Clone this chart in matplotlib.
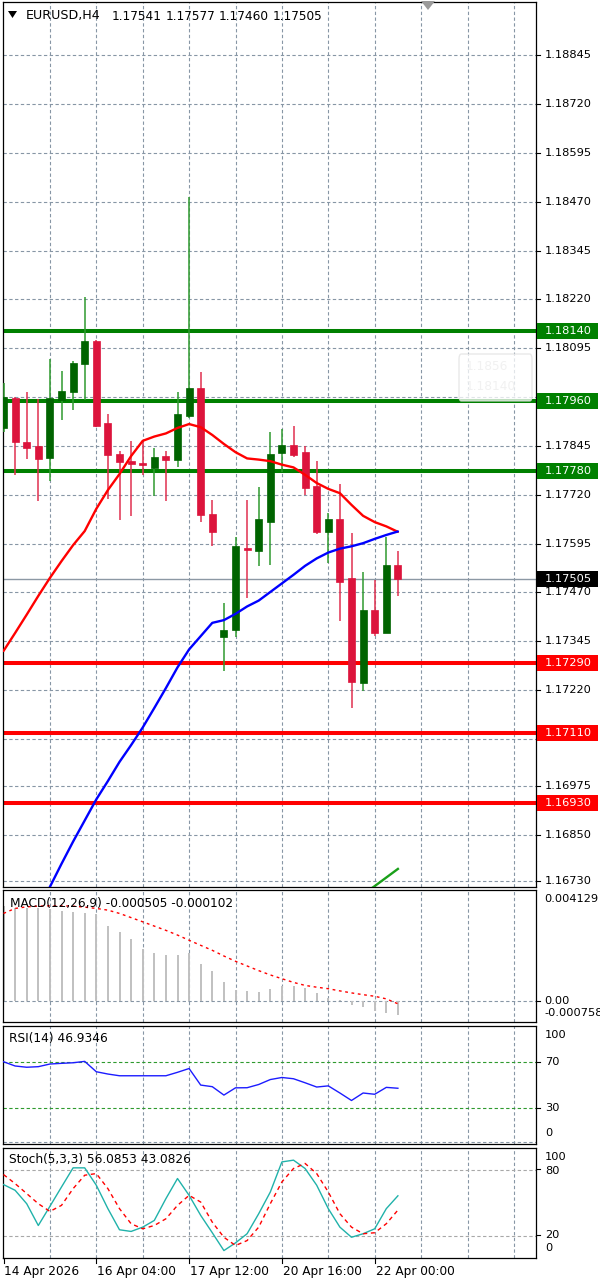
import matplotlib
matplotlib.use('Agg')
import matplotlib.pyplot as plt
from matplotlib.patches import Rectangle, Polygon, FancyBboxPatch
from matplotlib.lines import Line2D
import numpy as np

# ---------------- DATA ----------------
symbol_title = "EURUSD,H4"
title_ohlc = ["1.17541", "1.17577", "1.17460", "1.17505"]

opens = [1.17891, 1.17968, 1.17854, 1.17846, 1.17815, 1.17963, 1.17982, 1.18054, 1.18114, 1.17903,
         1.17824, 1.17806, 1.17800, 1.17789, 1.17819, 1.17809, 1.17922, 1.17993, 1.17670, 1.17355,
         1.17374, 1.17583, 1.17577, 1.17651, 1.17828, 1.17847, 1.17829, 1.17743, 1.17625, 1.17658,
         1.17506, 1.17237, 1.17425, 1.17367, 1.17541]
highs = [1.18007, 1.17971, 1.17982, 1.17965, 1.18067, 1.18037, 1.18062, 1.18226, 1.18116, 1.17926,
         1.17833, 1.17858, 1.17858, 1.17840, 1.17833, 1.17982, 1.18483, 1.18034, 1.17707, 1.17444,
         1.17613, 1.17707, 1.17739, 1.17881, 1.17888, 1.17897, 1.17846, 1.17806, 1.17673, 1.17747,
         1.17621, 1.17521, 1.17502, 1.17611, 1.17577]
lows = [1.17881, 1.17771, 1.17811, 1.17704, 1.17756, 1.17911, 1.17937, 1.17963, 1.17893, 1.17708,
        1.17655, 1.17666, 1.17771, 1.17717, 1.17704, 1.17790, 1.17916, 1.17650, 1.17590, 1.17270,
        1.17355, 1.17455, 1.17538, 1.17540, 1.17778, 1.17816, 1.17719, 1.17620, 1.17546, 1.17397,
        1.17173, 1.17218, 1.17358, 1.17365, 1.17460]
closes = [1.17970, 1.17856, 1.17840, 1.17811, 1.17967, 1.17986, 1.18057, 1.18114, 1.17896, 1.17822,
          1.17805, 1.17798, 1.17796, 1.17817, 1.17809, 1.17926, 1.17993, 1.17668, 1.17625, 1.17374,
          1.17589, 1.17579, 1.17658, 1.17824, 1.17847, 1.17822, 1.17738, 1.17625, 1.17658, 1.17497,
          1.17241, 1.17425, 1.17365, 1.17540, 1.17505]

ma_red = [1.17320, 1.17366, 1.17413, 1.17461, 1.17507, 1.17550, 1.17591, 1.17627, 1.17684, 1.17732,
          1.17773, 1.17819, 1.17858, 1.17869, 1.17877, 1.17891, 1.17901, 1.17893, 1.17873, 1.17850,
          1.17829, 1.17813, 1.17810, 1.17806, 1.17797, 1.17790, 1.17771, 1.17750, 1.17735, 1.17724,
          1.17694, 1.17666, 1.17650, 1.17639, 1.17625]
ma_blue = [1.16490, 1.16547, 1.16603, 1.16659, 1.16716, 1.16775, 1.16832, 1.16886, 1.16940, 1.16987,
           1.17036, 1.17079, 1.17124, 1.17174, 1.17225, 1.17278, 1.17324, 1.17358, 1.17392, 1.17399,
           1.17415, 1.17434, 1.17449, 1.17471, 1.17493, 1.17515, 1.17538, 1.17557, 1.17572, 1.17582,
           1.17588, 1.17596, 1.17607, 1.17617, 1.17626]
ma_green_idx = [31, 32, 33, 34]
ma_green = [1.16697, 1.16718, 1.16740, 1.16762]

levels_green = [1.18140, 1.17960, 1.17780]
levels_red = [1.17290, 1.17110, 1.16930]
current_price = 1.17505

price_ticks = [1.18845, 1.18720, 1.18595, 1.18470, 1.18345, 1.18220, 1.18095, 1.17970, 1.17845,
               1.17720, 1.17595, 1.17470, 1.17345, 1.17220, 1.17095, 1.16975, 1.16850, 1.16730]

date_idx = [0, 8, 16, 24, 32]
date_labels = ["14 Apr 2026", "16 Apr 04:00", "17 Apr 12:00", "20 Apr 16:00", "22 Apr 00:00"]

macd_main = [0.00350, 0.003428, 0.003428, 0.003428, 0.003391, 0.003328, 0.003302, 0.003265, 0.003206, 0.002774,
             0.002564, 0.002295, 0.001925, 0.001767, 0.001704, 0.001715, 0.001767, 0.001372, 0.001125, 0.000696,
             0.000412, 0.000386, 0.000327, 0.000438, 0.000560, 0.000560, 0.000475, 0.000312, 0.000106, 0.000043,
             -0.000141, -0.000204, -0.000352, -0.000426, -0.000505]
macd_signal = [0.003243, 0.003428, 0.003487, 0.003513, 0.003524, 0.003524, 0.003513, 0.003476, 0.003428, 0.003365,
               0.003243, 0.003088, 0.002933, 0.002774, 0.002616, 0.002442, 0.002250, 0.002062, 0.001877, 0.001667,
               0.001471, 0.001298, 0.001125, 0.000966, 0.000826, 0.000689, 0.000578, 0.000512, 0.000456, 0.000375,
               0.000301, 0.000235, 0.000176, 0.000080, -0.000102]
macd_top, macd_bottom = 0.004129, -0.000758

rsi = [70.0, 66.3, 65.2, 65.7, 68.0, 68.6, 69.1, 70.3, 61.3, 59.3,
       57.8, 57.8, 57.8, 57.8, 57.8, 60.8, 64.1, 49.7, 48.3, 41.0,
       47.3, 47.4, 50.2, 54.5, 56.3, 55.2, 51.7, 48.0, 49.0, 42.8,
       36.3, 42.8, 41.7, 47.7, 46.9346]

stoch_k = [66.3, 61.1, 48.9, 29.1, 46.5, 64.1, 81.5, 81.5, 65.7, 44.4,
           25.2, 23.7, 27.6, 33.7, 53.5, 71.8, 56.5, 38.3, 22.5, 6.3,
           13.3, 21.6, 39.8, 59.5, 86.9, 88.5, 80.9, 65.7, 44.4, 27.6,
           18.4, 21.6, 26.1, 44.4, 56.0853]
stoch_d = [75.4, 67.2, 58.1, 48.9, 41.9, 47.4, 62.6, 74.8, 76.3, 62.6,
           44.4, 30.7, 26.1, 29.1, 35.2, 47.4, 56.5, 50.4, 32.1, 18.4,
           10.9, 15.4, 27.6, 48.9, 68.7, 80.9, 85.5, 76.3, 59.5, 39.8,
           27.6, 21.6, 22.5, 30.7, 43.0826]

# ---------------- LAYOUT ----------------
W, H = 600, 1281
fig = plt.figure(figsize=(W / 100, H / 100), dpi=100)
fig.patch.set_facecolor('white')

X0, DX = 3.5, 11.6
AX_L, AX_R = 2.5, 536.0
FS_AX = 8.2
FS_T = 8.7
GRID_C = '#8796a5'
GRID_DASH = (0, (3.0, 2.2))


def fx(x):
    return x / W


def fy(y):
    return 1 - y / H


def ftext(x, y, s, **kw):
    fig.text(fx(x), fy(y), s, **kw)


def frect(x0, y0, x1, y1, **kw):
    fig.patches.append(Rectangle((fx(x0), fy(y1)), (x1 - x0) / W, (y1 - y0) / H,
                                 transform=fig.transFigure, **kw))


def fline(x0, y0, x1, y1, **kw):
    fig.lines.append(Line2D([fx(x0), fx(x1)], [fy(y0), fy(y1)], transform=fig.transFigure, **kw))


def add_ax(top, bot):
    ax = fig.add_axes([fx(AX_L), fy(bot), (AX_R - AX_L) / W, (bot - top) / H])
    ax.set_xlim((AX_L - X0) / DX, (AX_R - X0) / DX)
    ax.set_xticks([])
    ax.set_yticks([])
    for s in ax.spines.values():
        s.set_color('black')
        s.set_linewidth(0.9)
    ax.set_facecolor('white')
    for k in range(4, 46, 4):
        ax.axvline(k, color=GRID_C, lw=0.8, ls=GRID_DASH, zorder=0)
    return ax


n = len(opens)
idx = np.arange(n)

# ---------------- MAIN PANEL ----------------
M_TOP, M_BOT = 2.0, 887.0
REF_P, REF_Y, PXU = 1.18140, 330.7, 39058.0
YMAX = REF_P + (REF_Y - M_TOP) / PXU
YMIN = REF_P - (M_BOT - REF_Y) / PXU

ax = add_ax(M_TOP, M_BOT)
ax.set_ylim(YMIN, YMAX)


def ppx(p):
    return M_TOP + (YMAX - p) / (YMAX - YMIN) * (M_BOT - M_TOP)


for p in price_ticks:
    ax.axhline(p, color=GRID_C, lw=0.8, ls=GRID_DASH, zorder=0)

ax.axhline(current_price, color='#8c98a4', lw=1.0, zorder=1)
for p in levels_green:
    ax.axhline(p, color='#008000', lw=2.9, zorder=2)
for p in levels_red:
    ax.axhline(p, color='#ff0000', lw=2.9, zorder=2)

bw = 0.6
min_h = 1.6 / PXU
for i in range(n):
    o, h, l, c = opens[i], highs[i], lows[i], closes[i]
    bull = c >= o
    body_c = '#006400' if bull else '#dc143c'
    wick_c = '#2f9a2f' if bull else '#e0304f'
    ax.vlines(i, l, h, color=wick_c, lw=1.1, zorder=3)
    lo, hi = min(o, c), max(o, c)
    hgt = max(hi - lo, min_h)
    ax.add_patch(Rectangle((i - bw / 2, lo), bw, hgt, facecolor=body_c, edgecolor=body_c,
                           lw=0.5, zorder=4))

ax.plot(idx, ma_red, color='#ff0000', lw=1.7, zorder=5, solid_capstyle='round')
ax.plot(idx, ma_blue, color='#0000ff', lw=1.7, zorder=5, solid_capstyle='round')
ax.plot(ma_green_idx, ma_green, color='#1aa01a', lw=1.7, zorder=5)

# faint tooltip box
tip = FancyBboxPatch((fx(459), fy(401)), 73 / W, 47 / H, boxstyle='round,pad=0,rounding_size=0.004',
                     transform=fig.transFigure, facecolor='white', alpha=0.75,
                     edgecolor='#e2e2e2', lw=1.0, zorder=10)
fig.patches.append(tip)
ftext(466, 367, "1.1856", fontsize=FS_T, color='#c8c8c8', va='center', ha='left')
ftext(466, 386, "1.18140", fontsize=FS_T, color='#c8c8c8', va='center', ha='left')

# price axis labels (those hidden behind a level box are not drawn)
boxed = levels_green + levels_red + [current_price]
for p in price_ticks:
    y = ppx(p)
    fline(AX_R, y, AX_R + 4, y, color='black', lw=0.8)
    if min(abs(y - ppx(b)) for b in boxed) < 8.5:
        continue
    ftext(545, y, f"{p:.5f}", fontsize=FS_AX, color='black', va='center', ha='left')


def level_box(p, fc):
    y = ppx(p)
    frect(AX_R + 1, y - 8, 598, y + 8, facecolor=fc, edgecolor='none', zorder=20)
    ftext(545, y, f"{p:.5f}", fontsize=FS_AX, color='white', va='center', ha='left', zorder=21)


for p in levels_green:
    level_box(p, '#008000')
for p in levels_red:
    level_box(p, '#ff0000')
level_box(current_price, '#000000')

# title
fig.patches.append(Polygon([[fx(8), fy(11)], [fx(17), fy(11)], [fx(12.5), fy(18)]],
                           closed=True, transform=fig.transFigure, facecolor='black', edgecolor='none'))
ftext(26, 16, symbol_title, fontsize=FS_T + 0.4, color='black', va='center', ha='left')
for k, s in enumerate(title_ohlc):
    ftext(112 + 53.5 * k, 16, s, fontsize=FS_T, color='black', va='center', ha='left')

# top shift marker
fig.patches.append(Polygon([[fx(421), fy(1)], [fx(435), fy(1)], [fx(428), fy(10)]],
                           closed=True, transform=fig.transFigure, facecolor='#9a9a9a', edgecolor='none'))

# ---------------- MACD ----------------
ax2 = add_ax(889.5, 1021.5)
ax2.set_ylim(macd_bottom, macd_top)
ax2.axhline(0, color=GRID_C, lw=0.8, ls=GRID_DASH, zorder=0)
ax2.vlines(idx, 0, macd_main, color='#c0c0c0', lw=1.4, zorder=2)
ax2.plot(idx, macd_signal, color='#ff0000', lw=1.0, ls=(0, (2.0, 2.6)), zorder=3)
ftext(10, 903, "MACD(12,26,9) -0.000505 -0.000102", fontsize=FS_T, color='black', va='center', ha='left')
ftext(544, 899, "0.004129", fontsize=FS_AX, color='black', va='center', ha='left')
ftext(544, 1000.5, "0.00", fontsize=FS_AX, color='black', va='center', ha='left')
ftext(544, 1012.5, "-0.000758", fontsize=FS_AX, color='black', va='center', ha='left')
fline(AX_R, 1001.2, AX_R + 4, 1001.2, color='black', lw=0.8)

# ---------------- RSI ----------------
ax3 = add_ax(1025.5, 1143.5)
ax3.set_ylim(-1.1, 101.5)
for lv in (70, 30):
    ax3.axhline(lv, color='#2e9a2e', lw=0.8, ls=GRID_DASH, zorder=0)
ax3.axhline(0, color=GRID_C, lw=0.8, ls=GRID_DASH, zorder=0)
ax3.plot(idx, rsi, color='#1c1cff', lw=1.0, zorder=3)
ftext(9, 1038.5, "RSI(14) 46.9346", fontsize=FS_T, color='black', va='center', ha='left')
for s, y in (("100", 1035), ("70", 1061.7), ("30", 1107.7), ("0", 1133.5)):
    ftext(545, y, s, fontsize=FS_AX, color='black', va='center', ha='left')
for y in (1061.7, 1107.7):
    fline(AX_R, y, AX_R + 4, y, color='black', lw=0.8)

# ---------------- STOCH ----------------
ax4 = add_ax(1147.5, 1257.5)
ax4.set_ylim(0, 100)
for lv in (80, 20):
    ax4.axhline(lv, color='#a8a8a8', lw=0.8, ls=GRID_DASH, zorder=0)
ax4.plot(idx, stoch_k, color='#20b2aa', lw=1.0, zorder=3)
ax4.plot(idx, stoch_d, color='#ff0000', lw=1.0, ls=(0, (3.0, 2.6)), zorder=3)
ftext(9, 1160, "Stoch(5,3,3) 56.0853 43.0826", fontsize=FS_T, color='black', va='center', ha='left')
for s, y in (("100", 1156.5), ("80", 1171), ("20", 1234.5), ("0", 1248)):
    ftext(545, y, s, fontsize=FS_AX, color='black', va='center', ha='left')
for y in (1169.3, 1235.0):
    fline(AX_R, y, AX_R + 4, y, color='black', lw=0.8)

# ---------------- DATE AXIS ----------------
for i, s in zip(date_idx, date_labels):
    xp = X0 + DX * i
    fline(xp, 1257.5, xp, 1262.5, color='black', lw=0.8)
    ftext(xp + 1, 1271.5, s, fontsize=FS_T, color='black', va='center', ha='left')

fig.savefig('out.png', dpi=100, facecolor='white')
